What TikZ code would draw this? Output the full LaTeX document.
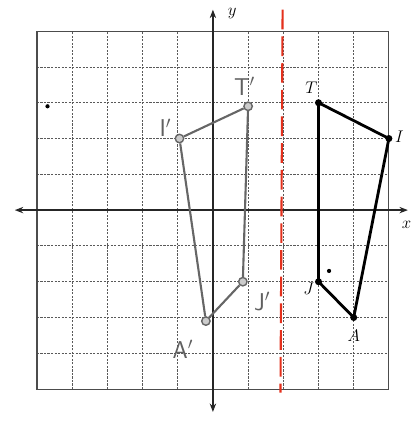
\documentclass[tikz,border=0pt]{standalone}
\usetikzlibrary{arrows.meta}
\definecolor{penred}{RGB}{228,48,28}
\begin{document}
\begin{tikzpicture}[x=0.88cm,y=0.895cm,
  gridline/.style={gray!70!black,line width=0.6pt,dash pattern=on 1.5pt off 1pt},
  gridframe/.style={gray!60!black,line width=0.8pt},
  axisline/.style={black!85,line width=1.3pt,{Stealth[length=6pt]}-{Stealth[length=6pt]}},
  origline/.style={black,line width=2pt,line join=round},
  imgline/.style={gray!80!black,line width=1.5pt,line join=round},
  odot/.style={circle,fill=black,inner sep=0pt,minimum size=5pt},
  idot/.style={circle,draw=gray!80!black,line width=1pt,fill=gray!40,inner sep=0pt,minimum size=6pt},
  olab/.style={font=\itshape\large},
  ilab/.style={font=\sffamily\LARGE,text=gray!75!black},
  mirrorline/.style={penred,line width=1.5pt,dash pattern=on 14pt off 5pt}]
\useasboundingbox (-6.05,-5.92) rectangle (5.82,5.87);
% grid
\foreach \i in {-4,...,4} {
  \draw[gridline] (\i,-5) -- (\i,5);
  \draw[gridline] (-5,\i) -- (5,\i);
}
\draw[gridframe] (-5,-5) rectangle (5,5);
% axes
\draw[axisline] (-5.63,0) -- (5.54,0);
\draw[axisline] (0,-5.64) -- (0,5.6);
\node[olab] (ylab) at (0.55,5.5) {$y$};
\node[olab] (xlab) at (5.5,-0.42) {$x$};
% mirror line x = 2
\coordinate (mtop) at (1.98,5.6);
\coordinate (mbot) at (1.92,-5.1);
\draw[mirrorline] (mtop) -- (mbot);
% original figure
\node[odot] (T) at (3,3) {};
\node[odot] (I) at (5,2) {};
\node[odot] (A) at (4,-3) {};
\node[odot] (J) at (3,-2) {};
\draw[origline] (T.center) -- (I.center) -- (A.center) -- (J.center) -- cycle;
\node[olab] (Tl) at (2.8,3.42) {$T$};
\node[olab] (Il) at (5.3,2.05) {$I$};
\node[olab] (Al) at (4.0,-3.5) {$A$};
\node[olab] (Jl) at (2.72,-2.2) {$J$};
% image figure
\node[idot] (Tp) at (1,2.9) {};
\node[idot] (Ip) at (-0.95,2.0) {};
\node[idot] (Ap) at (-0.2,-3.1) {};
\node[idot] (Jp) at (0.85,-2.0) {};
\draw[imgline] (Tp) -- (Ip) -- (Ap) -- (Jp) -- (Tp);
\node[ilab] (Tpl) at (0.9,3.45) {T$'$};
\node[ilab] (Ipl) at (-1.35,2.3) {I$'$};
\node[ilab] (Apl) at (-0.85,-3.9) {A$'$};
\node[ilab] (Jpl) at (1.4,-2.55) {J$'$};
% stray marks
\node[circle,fill=black,inner sep=0pt,minimum size=3pt] (d1) at (-4.7,2.9) {};
\node[circle,fill=black,inner sep=0pt,minimum size=3pt] (d2) at (3.3,-1.7) {};
\end{tikzpicture}
\end{document}
